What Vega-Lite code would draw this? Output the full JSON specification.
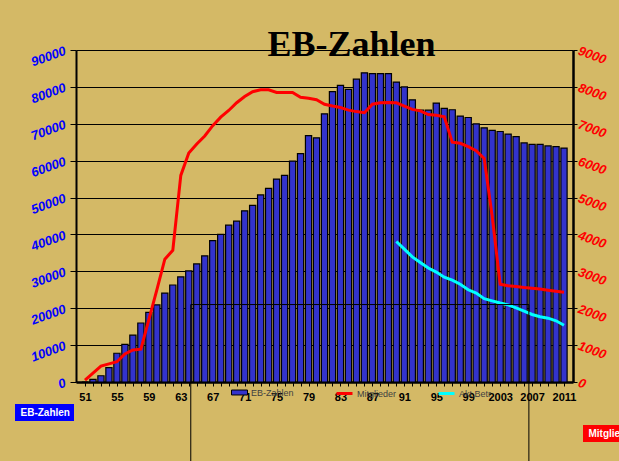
{
  "$schema": "https://vega.github.io/schema/vega-lite/v6.json",
  "width": 497,
  "height": 332,
  "autosize": {"type": "none"},
  "padding": {"left": 76, "top": 50, "right": 46, "bottom": 79},
  "background": "#D4B966",
  "title": {
    "text": "EB-Zahlen",
    "font": "Liberation Serif",
    "fontSize": 36,
    "fontWeight": "bold",
    "color": "black",
    "anchor": "middle",
    "frame": "group",
    "dx": 27,
    "offset": -48,
    "baseline": "alphabetic"
  },
  "config": {
    "view": {"fill": "#C0C0C0", "stroke": null},
    "axisX": {"labelOverlap": false, "labelFlush": false},
    "legend": {"labelOverlap": false}
  },
  "data": {
    "values": [
      {"Jahr": 1951, "EB": 0, "Mitglieder": 50, "AktBetr": null},
      {"Jahr": 1952, "EB": 700, "Mitglieder": 240, "AktBetr": null},
      {"Jahr": 1953, "EB": 1700, "Mitglieder": 430, "AktBetr": null},
      {"Jahr": 1954, "EB": 3900, "Mitglieder": 490, "AktBetr": null},
      {"Jahr": 1955, "EB": 7800, "Mitglieder": 550, "AktBetr": null},
      {"Jahr": 1956, "EB": 10200, "Mitglieder": 760, "AktBetr": null},
      {"Jahr": 1957, "EB": 12700, "Mitglieder": 870, "AktBetr": null},
      {"Jahr": 1958, "EB": 16000, "Mitglieder": 890, "AktBetr": null},
      {"Jahr": 1959, "EB": 18900, "Mitglieder": 1690, "AktBetr": null},
      {"Jahr": 1960, "EB": 20900, "Mitglieder": 2500, "AktBetr": null},
      {"Jahr": 1961, "EB": 24100, "Mitglieder": 3330, "AktBetr": null},
      {"Jahr": 1962, "EB": 26300, "Mitglieder": 3570, "AktBetr": null},
      {"Jahr": 1963, "EB": 28500, "Mitglieder": 5600, "AktBetr": null},
      {"Jahr": 1964, "EB": 30100, "Mitglieder": 6210, "AktBetr": null},
      {"Jahr": 1965, "EB": 32000, "Mitglieder": 6450, "AktBetr": null},
      {"Jahr": 1966, "EB": 34200, "Mitglieder": 6670, "AktBetr": null},
      {"Jahr": 1967, "EB": 38300, "Mitglieder": 6950, "AktBetr": null},
      {"Jahr": 1968, "EB": 40000, "Mitglieder": 7180, "AktBetr": null},
      {"Jahr": 1969, "EB": 42500, "Mitglieder": 7360, "AktBetr": null},
      {"Jahr": 1970, "EB": 43600, "Mitglieder": 7570, "AktBetr": null},
      {"Jahr": 1971, "EB": 46400, "Mitglieder": 7740, "AktBetr": null},
      {"Jahr": 1972, "EB": 47900, "Mitglieder": 7870, "AktBetr": null},
      {"Jahr": 1973, "EB": 50700, "Mitglieder": 7920, "AktBetr": null},
      {"Jahr": 1974, "EB": 52500, "Mitglieder": 7920, "AktBetr": null},
      {"Jahr": 1975, "EB": 55000, "Mitglieder": 7850, "AktBetr": null},
      {"Jahr": 1976, "EB": 56000, "Mitglieder": 7850, "AktBetr": null},
      {"Jahr": 1977, "EB": 59900, "Mitglieder": 7850, "AktBetr": null},
      {"Jahr": 1978, "EB": 61900, "Mitglieder": 7720, "AktBetr": null},
      {"Jahr": 1979, "EB": 66800, "Mitglieder": 7690, "AktBetr": null},
      {"Jahr": 1980, "EB": 66200, "Mitglieder": 7650, "AktBetr": null},
      {"Jahr": 1981, "EB": 72700, "Mitglieder": 7530, "AktBetr": null},
      {"Jahr": 1982, "EB": 78700, "Mitglieder": 7480, "AktBetr": null},
      {"Jahr": 1983, "EB": 80400, "Mitglieder": 7440, "AktBetr": null},
      {"Jahr": 1984, "EB": 79300, "Mitglieder": 7370, "AktBetr": null},
      {"Jahr": 1985, "EB": 82100, "Mitglieder": 7330, "AktBetr": null},
      {"Jahr": 1986, "EB": 83800, "Mitglieder": 7300, "AktBetr": null},
      {"Jahr": 1987, "EB": 83600, "Mitglieder": 7530, "AktBetr": null},
      {"Jahr": 1988, "EB": 83600, "Mitglieder": 7570, "AktBetr": null},
      {"Jahr": 1989, "EB": 83600, "Mitglieder": 7580, "AktBetr": null},
      {"Jahr": 1990, "EB": 81300, "Mitglieder": 7570, "AktBetr": 3810},
      {"Jahr": 1991, "EB": 80000, "Mitglieder": 7480, "AktBetr": 3600},
      {"Jahr": 1992, "EB": 76500, "Mitglieder": 7390, "AktBetr": 3390},
      {"Jahr": 1993, "EB": 73700, "Mitglieder": 7350, "AktBetr": 3240},
      {"Jahr": 1994, "EB": 73700, "Mitglieder": 7250, "AktBetr": 3090},
      {"Jahr": 1995, "EB": 75600, "Mitglieder": 7230, "AktBetr": 2980},
      {"Jahr": 1996, "EB": 74200, "Mitglieder": 7190, "AktBetr": 2840},
      {"Jahr": 1997, "EB": 73800, "Mitglieder": 6500, "AktBetr": 2760},
      {"Jahr": 1998, "EB": 72100, "Mitglieder": 6470, "AktBetr": 2650},
      {"Jahr": 1999, "EB": 71700, "Mitglieder": 6380, "AktBetr": 2500},
      {"Jahr": 2000, "EB": 70000, "Mitglieder": 6270, "AktBetr": 2410},
      {"Jahr": 2001, "EB": 68900, "Mitglieder": 6060, "AktBetr": 2260},
      {"Jahr": 2002, "EB": 68200, "Mitglieder": 4500, "AktBetr": 2200},
      {"Jahr": 2003, "EB": 67900, "Mitglieder": 2650, "AktBetr": 2140},
      {"Jahr": 2004, "EB": 67200, "Mitglieder": 2610, "AktBetr": 2090},
      {"Jahr": 2005, "EB": 66500, "Mitglieder": 2590, "AktBetr": 2010},
      {"Jahr": 2006, "EB": 64800, "Mitglieder": 2560, "AktBetr": 1920},
      {"Jahr": 2007, "EB": 64400, "Mitglieder": 2540, "AktBetr": 1830},
      {"Jahr": 2008, "EB": 64400, "Mitglieder": 2520, "AktBetr": 1770},
      {"Jahr": 2009, "EB": 64000, "Mitglieder": 2490, "AktBetr": 1730},
      {"Jahr": 2010, "EB": 63800, "Mitglieder": 2460, "AktBetr": 1660},
      {"Jahr": 2011, "EB": 63400, "Mitglieder": 2430, "AktBetr": 1540}
    ]
  },
  "layer": [
    {
      "mark": {"type": "bar", "orient": "vertical", "size": 6.2, "stroke": "black", "strokeWidth": 1.2},
      "encoding": {
        "x": {
          "field": "Jahr",
          "type": "quantitative",
          "scale": {"domain": [1950.5, 2011.5], "nice": false, "zero": false},
          "axis": {
            "title": null,
            "tickCount": 200,
            "values": [1951,1952,1953,1954,1955,1956,1957,1958,1959,1960,1961,1962,1963,1964,1965,1966,1967,1968,1969,1970,1971,1972,1973,1974,1975,1976,1977,1978,1979,1980,1981,1982,1983,1984,1985,1986,1987,1988,1989,1990,1991,1992,1993,1994,1995,1996,1997,1998,1999,2000,2001,2002,2003,2004,2005,2006,2007,2008,2009,2010,2011],
            "labelExpr": "(datum.value - 1951) % 4 == 0 ? ((datum.value < 2000 ? datum.value % 100 : datum.value) + '') : ''",
            "labelOverlap": false,
            "labelFlush": false,
            "grid": false,
            "tickSize": 4,
            "tickColor": "black",
            "domainColor": "black",
            "domainWidth": 2.5,
            "labelFont": "Liberation Sans",
            "labelFontWeight": "bold",
            "labelFontSize": 11,
            "labelColor": "black",
            "labelPadding": 5
          }
        },
        "y": {
          "field": "EB",
          "type": "quantitative",
          "scale": {"domain": [0, 90000], "nice": false},
          "axis": {
            "title": null,
            "orient": "left",
            "tickCount": 50,
            "values": [0,10000,20000,30000,40000,50000,60000,70000,80000,90000],
            "format": "d",
            "grid": true,
            "gridColor": "black",
            "gridWidth": 1.2,
            "tickSize": 6,
            "tickColor": "black",
            "domainColor": "black",
            "domainWidth": 2,
            "labelAngle": -20,
            "labelAlign": "right",
            "labelBaseline": "middle",
            "labelColor": "#0000FF",
            "labelFont": "Liberation Sans",
            "labelFontWeight": "bold",
            "labelFontStyle": "italic",
            "labelFontSize": 13,
            "labelPadding": 5,
            "labelFlush": false,
            "labelOverlap": false
          }
        },
        "color": {
          "datum": "EB-Zahlen",
          "type": "nominal",
          "scale": {"domain": ["EB-Zahlen"], "range": ["#3333CC"]},
          "legend": {
            "orient": "none",
            "legendX": 155,
            "legendY": 334,
            "title": null,
            "padding": 0,
            "labelFont": "Liberation Sans",
            "labelFontSize": 9,
            "labelColor": "#404040",
            "labelOffset": 3,
            "symbolType": "M-1,-0.31H1V0.31H-1Z",
            "symbolSize": 256,
            "symbolStrokeColor": "black",
            "symbolStrokeWidth": 1,
            "symbolOpacity": 1
          }
        }
      }
    },
    {
      "mark": {"type": "line", "strokeWidth": 3},
      "encoding": {
        "x": {"field": "Jahr", "type": "quantitative"},
        "y": {
          "field": "Mitglieder",
          "type": "quantitative",
          "scale": {"domain": [0, 9000], "nice": false},
          "axis": {
            "title": null,
            "orient": "right",
            "tickCount": 50,
            "values": [0,1000,2000,3000,4000,5000,6000,7000,8000,9000],
            "format": "d",
            "grid": false,
            "tickSize": 4,
            "tickColor": "black",
            "domainColor": "black",
            "domainWidth": 2.5,
            "labelAngle": 20,
            "labelAlign": "left",
            "labelBaseline": "middle",
            "labelColor": "#FF0000",
            "labelFont": "Liberation Sans",
            "labelFontWeight": "bold",
            "labelFontStyle": "italic",
            "labelFontSize": 13,
            "labelPadding": 1,
            "labelFlush": false,
            "labelOverlap": false
          }
        },
        "color": {
          "datum": "Mitglieder",
          "type": "nominal",
          "scale": {"domain": ["Mitglieder"], "range": ["#FF0000"]},
          "legend": {
            "orient": "none",
            "legendX": 259,
            "legendY": 334,
            "title": null,
            "padding": 0,
            "labelFont": "Liberation Sans",
            "labelFontSize": 9,
            "labelColor": "#404040",
            "labelOffset": 3,
            "symbolType": "stroke",
            "symbolSize": 256,
            "symbolStrokeWidth": 3
          }
        }
      }
    },
    {
      "mark": {"type": "line", "strokeWidth": 3},
      "encoding": {
        "x": {"field": "Jahr", "type": "quantitative"},
        "y": {
          "field": "AktBetr",
          "type": "quantitative",
          "scale": {"domain": [0, 9000], "nice": false},
          "axis": null
        },
        "color": {
          "datum": "Akt.Betr.",
          "type": "nominal",
          "scale": {"domain": ["Akt.Betr."], "range": ["#00FFFF"]},
          "legend": {
            "orient": "none",
            "legendX": 361,
            "legendY": 334,
            "title": null,
            "padding": 0,
            "labelFont": "Liberation Sans",
            "labelFontSize": 9,
            "labelColor": "#404040",
            "labelOffset": 3,
            "symbolType": "stroke",
            "symbolSize": 256,
            "symbolStrokeWidth": 3
          }
        }
      }
    },
    {
      "data": {"values": [{"von": 1964.25, "bis": 2006.6, "oben": 21000, "unten": -30000}]},
      "mark": {"type": "rect", "fillOpacity": 0, "stroke": "black", "strokeWidth": 1},
      "encoding": {
        "x": {"field": "von", "type": "quantitative"},
        "x2": {"field": "bis"},
        "y": {"field": "oben", "type": "quantitative", "scale": {"domain": [0, 90000], "nice": false}, "axis": null},
        "y2": {"field": "unten"}
      }
    },
    {
      "data": {"values": [{"box": "EB-Zahlen"}]},
      "mark": {"type": "point", "opacity": 0, "size": 1},
      "encoding": {
        "shape": {
          "field": "box",
          "type": "nominal",
          "legend": {
            "orient": "none",
            "legendX": -61,
            "legendY": 354,
            "title": null,
            "fillColor": "#0000FF",
            "padding": 3.5,
            "symbolSize": 1,
            "symbolOpacity": 0,
            "symbolStrokeWidth": 0,
            "labelOffset": -8,
            "labelColor": "white",
            "labelFont": "Liberation Sans",
            "labelFontWeight": "bold",
            "labelFontSize": 10
          }
        }
      }
    },
    {
      "data": {"values": [{"box": "Mitglieder"}]},
      "mark": {"type": "point", "opacity": 0, "size": 1},
      "encoding": {
        "shape": {
          "field": "box",
          "type": "nominal",
          "legend": {
            "orient": "none",
            "legendX": 507,
            "legendY": 375,
            "title": null,
            "fillColor": "#FF0000",
            "padding": 3.5,
            "symbolSize": 1,
            "symbolOpacity": 0,
            "symbolStrokeWidth": 0,
            "labelOffset": -8,
            "labelColor": "white",
            "labelFont": "Liberation Sans",
            "labelFontWeight": "bold",
            "labelFontSize": 10
          }
        }
      }
    }
  ],
  "resolve": {
    "scale": {"y": "independent", "shape": "independent", "color": "independent"},
    "legend": {"shape": "independent", "color": "independent"},
    "axis": {"y": "independent"}
  }
}
